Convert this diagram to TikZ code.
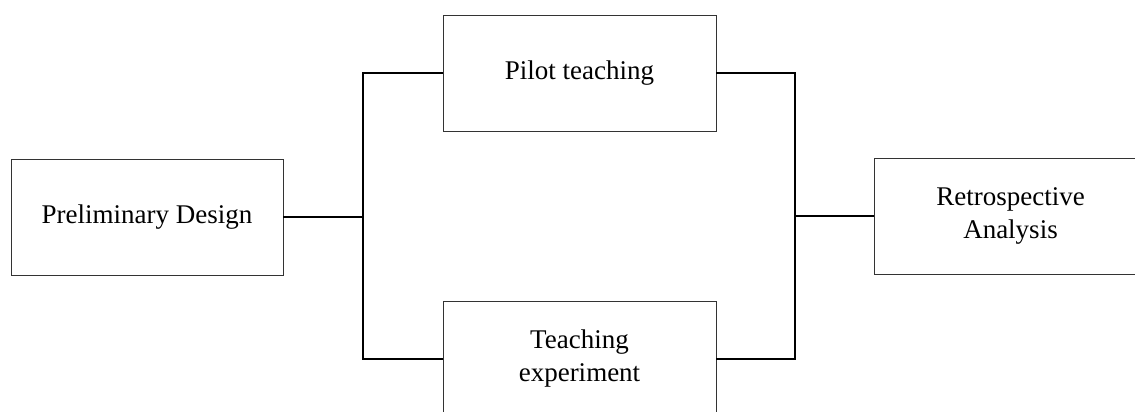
\documentclass[tikz,border=0pt]{standalone}
\usepackage{fontspec}
\setmainfont{Liberation Serif}
\begin{document}
\begin{tikzpicture}[x=1pt,y=-1pt,
  stagebox/.style={draw=black!80, line width=0.9pt, minimum width=273pt, minimum height=116pt,
    inner sep=0pt, align=center, font=\fontsize{27}{33}\selectfont},
  conn/.style={draw=black, line width=1.7pt}]
\useasboundingbox (0,0) rectangle (1135,412);
\clip (0,0) rectangle (1135,412);
\node[stagebox, minimum width=272pt] (pre) at (147,217) {Preliminary Design};
\node[stagebox] (pilot) at (579.5,73) {Pilot teaching};
\node[stagebox] (exp) at (579.5,359) {Teaching\\experiment};
\node[stagebox] (retro) at (1010.5,216) {Retrospective\\Analysis};
\coordinate (jl) at (363,217);
\coordinate (lt) at (363,73);
\coordinate (lb) at (363,359);
\coordinate (jr) at (795,216);
\coordinate (rt) at (795,73);
\coordinate (rb) at (795,359);
\draw[conn] (pre.east) -- (jl);
\draw[conn] (pilot.west) -- (lt) -- (lb) -- (exp.west);
\draw[conn] (pilot.east) -- (rt) -- (rb) -- (exp.east);
\draw[conn] (jr) -- (retro.west);
\end{tikzpicture}
\end{document}
